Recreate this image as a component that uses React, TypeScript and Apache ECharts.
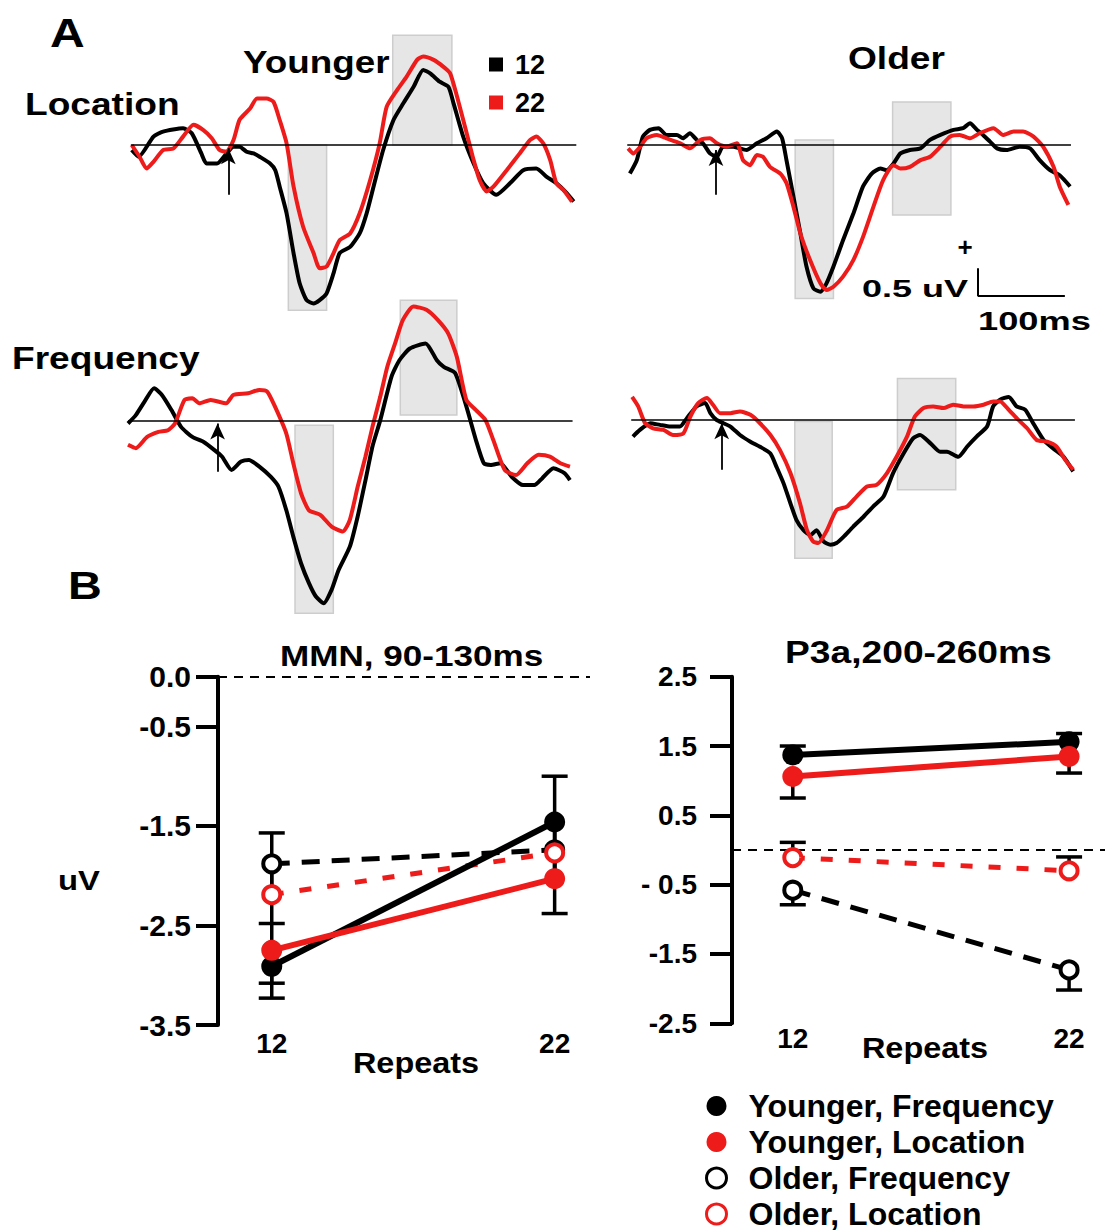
import React, { useEffect, useRef } from 'react';
import * as echarts from 'echarts';

const RED = '#ee1b1b';
const BLACK = '#000000';
const FONT = '"Liberation Sans", Arial, Helvetica, sans-serif';

// ---------- Panel A: ERP difference waves, [time ms (0 = arrow), amplitude uV] ----------
const youngLoc12 = [[-111,-0.09],[-103,-0.21],[-86,0.15],[-75,0.24],[-52,0.3],[-42,0.21],[-31,-0.15],[-25,-0.33],[-13,-0.33],[-2,-0.15],[6,-0.03],[13,-0.03],[21,-0.12],[29,-0.15],[36,-0.21],[48,-0.33],[54,-0.45],[59,-0.74],[67,-1.22],[75,-1.93],[82,-2.47],[90,-2.77],[98,-2.83],[105,-2.77],[113,-2.65],[121,-2.29],[128,-1.93],[140,-1.82],[151,-1.58],[159,-1.22],[167,-0.74],[178,-0.09],[190,0.45],[201,0.74],[213,1.04],[224,1.34],[232,1.28],[243,1.13],[253,1.04],[259,0.74],[270,0.15],[282,-0.33],[293,-0.68],[308,-0.89],[324,-0.68],[339,-0.45],[354,-0.42],[366,-0.57],[377,-0.68],[389,-0.86],[397,-1.01]];
const youngLoc22 = [[-111,0],[-102,-0.21],[-94,-0.42],[-86,-0.3],[-75,-0.09],[-63,-0.06],[-52,0.15],[-40,0.36],[-29,0.27],[-19,0.12],[-10,-0.09],[-2,-0.12],[6,0.09],[13,0.45],[25,0.65],[33,0.83],[44,0.83],[52,0.77],[59,0.45],[67,0.03],[75,-0.74],[86,-1.46],[98,-1.93],[105,-2.2],[113,-2.17],[121,-1.93],[128,-1.7],[140,-1.58],[151,-1.22],[163,-0.63],[174,0.03],[182,0.68],[194,0.98],[205,1.22],[217,1.52],[224,1.58],[236,1.52],[247,1.4],[255,1.28],[263,0.86],[274,0.21],[282,-0.27],[289,-0.63],[297,-0.83],[305,-0.74],[320,-0.45],[335,-0.15],[347,0.09],[354,0.15],[362,0.03],[370,-0.27],[377,-0.68],[385,-0.8],[395,-1.01]];
const oldLoc12 = [[-99,-0.51],[-91,-0.27],[-84,0.15],[-76,0.27],[-66,0.3],[-57,0.18],[-45,0.18],[-38,0.12],[-30,0.21],[-22,0.09],[-15,0.03],[-7,-0.15],[1,-0.21],[8,-0.03],[20,-0.03],[35,-0.09],[47,0.03],[58,0.12],[70,0.24],[76,0.12],[81,-0.27],[89,-0.92],[97,-1.58],[104,-2.17],[112,-2.56],[120,-2.62],[127,-2.47],[135,-2.17],[146,-1.7],[158,-1.22],[169,-0.74],[179,-0.51],[189,-0.42],[196,-0.45],[204,-0.33],[212,-0.15],[223,-0.09],[235,-0.06],[246,0.09],[258,0.18],[273,0.27],[284,0.3],[292,0.39],[300,0.27],[307,0.18],[315,0.06],[323,-0.06],[334,-0.09],[349,-0.03],[361,-0.06],[372,-0.27],[384,-0.45],[395,-0.54],[407,-0.74]];
const oldLoc22 = [[-101,-0.06],[-95,-0.15],[-87,-0.03],[-80,0.12],[-68,0.18],[-57,0.12],[-41,0.03],[-30,-0.06],[-18,0.09],[-7,0.12],[1,0.03],[12,-0.03],[24,0.03],[31,-0.27],[39,-0.36],[47,-0.18],[54,-0.21],[62,-0.39],[74,-0.51],[81,-0.68],[89,-1.1],[97,-1.58],[108,-2.05],[120,-2.47],[127,-2.59],[135,-2.53],[146,-2.35],[158,-2.05],[169,-1.64],[181,-1.1],[192,-0.63],[204,-0.36],[212,-0.42],[223,-0.39],[235,-0.27],[246,-0.21],[258,-0.03],[269,0.15],[280,0.18],[292,0.12],[303,0.21],[319,0.3],[330,0.18],[342,0.24],[353,0.24],[365,0.15],[376,-0.03],[388,-0.39],[395,-0.74],[405,-1.07]];
const youngFreq12 = [[-103,-0.05],[-94,0.1],[-84,0.34],[-73,0.58],[-64,0.46],[-53,0.19],[-42,-0.11],[-29,-0.29],[-16,-0.38],[-4,-0.52],[5,-0.64],[16,-0.88],[27,-0.73],[36,-0.7],[48,-0.82],[61,-1.0],[70,-1.18],[79,-1.6],[87,-2.07],[96,-2.55],[105,-2.9],[113,-3.14],[122,-3.26],[131,-3.02],[139,-2.67],[152,-2.25],[161,-1.71],[170,-1.06],[178,-0.46],[187,0.01],[200,0.79],[209,1.08],[221,1.29],[239,1.38],[252,1.08],[260,0.96],[273,0.85],[286,0.25],[297,-0.35],[306,-0.76],[314,-0.79],[325,-0.76],[338,-1.0],[351,-1.15],[364,-1.15],[373,-1.03],[386,-0.85],[399,-0.94],[405,-1.06]];
const youngFreq22 = [[-103,-0.43],[-94,-0.49],[-81,-0.29],[-68,-0.2],[-57,-0.17],[-49,-0.05],[-38,0.37],[-29,0.4],[-21,0.31],[-8,0.37],[10,0.31],[18,0.46],[35,0.49],[48,0.55],[57,0.52],[66,0.25],[79,-0.23],[87,-0.76],[96,-1.3],[105,-1.6],[118,-1.68],[131,-1.89],[144,-1.98],[152,-1.77],[161,-1.18],[170,-0.64],[178,-0.11],[187,0.43],[195,0.96],[204,1.38],[213,1.8],[225,2.04],[240,1.98],[253,1.8],[265,1.56],[275,1.14],[286,0.37],[297,0.19],[308,0.01],[317,-0.35],[330,-0.88],[343,-0.97],[356,-0.76],[369,-0.61],[382,-0.64],[394,-0.76],[405,-0.82]];
const oldFreq12 = [[-102,-0.31],[-94,-0.19],[-82,-0.07],[-71,-0.1],[-59,-0.13],[-48,-0.13],[-40,0.02],[-29,0.23],[-19,0.29],[-13,0.11],[-6,-0.01],[2,-0.07],[10,-0.13],[21,-0.28],[33,-0.4],[44,-0.49],[56,-0.61],[63,-0.85],[71,-1.14],[79,-1.5],[86,-1.8],[94,-1.98],[102,-2.07],[109,-1.98],[117,-2.18],[125,-2.24],[132,-2.21],[140,-2.1],[151,-1.92],[163,-1.74],[174,-1.56],[186,-1.38],[197,-0.96],[209,-0.61],[220,-0.34],[228,-0.28],[240,-0.43],[251,-0.58],[259,-0.58],[272,-0.67],[282,-0.49],[293,-0.31],[305,-0.13],[312,0.23],[320,0.35],[330,0.4],[339,0.23],[349,0.17],[358,-0.07],[370,-0.37],[381,-0.52],[393,-0.67],[404,-0.93]];
const oldFreq22 = [[-103,0.4],[-96,0.23],[-88,-0.07],[-79,-0.16],[-67,-0.19],[-56,-0.28],[-44,-0.25],[-36,0.05],[-27,0.29],[-17,0.38],[-10,0.26],[-2,0.11],[10,0.11],[21,0.14],[33,0.08],[44,-0.07],[56,-0.28],[67,-0.55],[79,-0.96],[90,-1.5],[98,-1.98],[105,-2.18],[111,-2.21],[121,-1.98],[132,-1.62],[144,-1.56],[155,-1.38],[167,-1.2],[178,-1.17],[190,-0.96],[201,-0.67],[213,-0.31],[222,0.05],[232,0.2],[243,0.23],[255,0.2],[266,0.26],[278,0.23],[289,0.23],[301,0.26],[312,0.32],[320,0.32],[330,0.17],[339,0.02],[351,-0.16],[362,-0.37],[374,-0.4],[385,-0.49],[395,-0.73],[404,-0.9]];

// analysis windows [tStart, tEnd, vTop, vBottom]
const youngLocBoxes = [[69,113,0,-2.95],[189,257,1.96,0]];
const oldLocBoxes = [[91,135,0.09,-2.74],[203,270,0.77,-1.25]];
const youngFreqBoxes = [[89,133,-0.08,-3.44],[210,275,2.15,0.1]];
const oldFreqBoxes = [[84,127,-0.04,-2.48],[202,269,0.73,-1.26]];
// onset arrows [tail uV, tip uV] at t = 0
const youngLocArrow = [-0.89,-0.06];
const oldLocArrow = [-0.89,-0.09];
const youngFreqArrow = [-0.91,-0.05];
const oldFreqArrow = [-0.9,-0.07];
// scale bar (Older, Location panel)
const scaleBarOrigin = [301,-2.7];
const scaleBarMs = 100;
const scaleBarUv = 0.5;

// ---------- Panel B ----------
const repeats = [12, 22];
const mmnTicks = [0, -0.5, -1.5, -2.5, -3.5];
const p3aTicks = [2.5, 1.5, 0.5, -0.5, -1.5, -2.5];
const p3aTickLabels = ['2.5', '1.5', '0.5', '- 0.5', '-1.5', '-2.5'];

// means, error-bar ends (lo / hi) and whether each end shows a cap
const mmnYoungFreq = [-2.91, -1.46];
const mmnYoungFreqLo = [-3.23, -1.95];
const mmnYoungFreqHi = [-2.91, -1.0];
const mmnYoungFreqCaps = [[1, 0], [0, 1]];
const mmnYoungLoc = [-2.75, -2.03];
const mmnYoungLocLo = [-3.08, -2.38];
const mmnYoungLocHi = [-2.48, -1.68];
const mmnYoungLocCaps = [[1, 1], [1, 0]];
const mmnOldFreq = [-1.88, -1.74];
const mmnOldFreqLo = [-2.19, -2.0];
const mmnOldFreqHi = [-1.57, -1.46];
const mmnOldFreqCaps = [[0, 1], [0, 0]];
const mmnOldLoc = [-2.19, -1.77];
const mmnOldLocLo = [-2.49, -2.02];
const mmnOldLocHi = [-1.89, -1.52];
const mmnOldLocCaps = [[0, 0], [0, 0]];

const p3aYoungFreq = [1.37, 1.56];
const p3aYoungFreqLo = [1.37, 1.56];
const p3aYoungFreqHi = [1.5, 1.68];
const p3aYoungFreqCaps = [[0, 1], [0, 1]];
const p3aYoungLoc = [1.06, 1.35];
const p3aYoungLocLo = [0.75, 1.11];
const p3aYoungLocHi = [1.06, 1.35];
const p3aYoungLocCaps = [[1, 0], [1, 0]];
const p3aOldFreq = [-0.58, -1.73];
const p3aOldFreqLo = [-0.79, -2.02];
const p3aOldFreqHi = [-0.58, -1.73];
const p3aOldFreqCaps = [[1, 0], [1, 0]];
const p3aOldLoc = [-0.11, -0.3];
const p3aOldLocLo = [-0.11, -0.3];
const p3aOldLocHi = [0.11, -0.1];
const p3aOldLocCaps = [[0, 1], [0, 1]];

const PX_PER_MS = 0.87;
const PX_PER_UV = 56;

const erpPanels = [
  { origin: [228.3, 145], t: [-112, 400], v: [-3.0, 2.0], d12: youngLoc12, d22: youngLoc22, boxes: youngLocBoxes, arrow: youngLocArrow, scale: false },
  { origin: [716, 145], t: [-102, 408], v: [-2.8, 0.8], d12: oldLoc12, d22: oldLoc22, boxes: oldLocBoxes, arrow: oldLocArrow, scale: true },
  { origin: [217.6, 420.7], t: [-103, 408], v: [-3.5, 2.2], d12: youngFreq12, d22: youngFreq22, boxes: youngFreqBoxes, arrow: youngFreqArrow, scale: false },
  { origin: [721.7, 419.3], t: [-104, 406], v: [-2.6, 0.8], d12: oldFreq12, d22: oldFreq22, boxes: oldFreqBoxes, arrow: oldFreqArrow, scale: false },
];

function txt(text: string, x: number, y: number, size: number, sx: number, align = 'left') {
  return {
    type: 'text', x, y, scaleX: sx, z: 20, silent: true,
    style: {
      text, fontSize: size, fontWeight: 'bold', fontFamily: FONT, fill: '#000',
      align, verticalAlign: 'middle', textAlign: align, textVerticalAlign: 'middle',
    },
  };
}

function buildOption() {
  const grid: any[] = [];
  const xAxis: any[] = [];
  const yAxis: any[] = [];
  const series: any[] = [];

  erpPanels.forEach((p, i) => {
    const [ox, oy] = p.origin;
    grid.push({
      left: ox + p.t[0] * PX_PER_MS, top: oy - p.v[1] * PX_PER_UV,
      width: (p.t[1] - p.t[0]) * PX_PER_MS, height: (p.v[1] - p.v[0]) * PX_PER_UV,
      containLabel: false, outerBoundsMode: 'none',
    });
    xAxis.push({ type: 'value', gridIndex: i, min: p.t[0], max: p.t[1], show: false });
    yAxis.push({ type: 'value', gridIndex: i, min: p.v[0], max: p.v[1], show: false });
    const lines: any[] = [
      { yAxis: 0, symbol: 'none', lineStyle: { color: BLACK, width: 1.6, type: 'solid' } },
      [
        { coord: [0, p.arrow[0]], symbol: 'none', lineStyle: { color: BLACK, width: 1.8, type: 'solid' } },
        { coord: [0, p.arrow[1]], symbol: 'arrow', symbolSize: [11, 16] },
      ],
    ];
    if (p.scale) {
      const [sx0, sy0] = scaleBarOrigin;
      lines.push([
        { coord: [sx0, sy0 + scaleBarUv], symbol: 'none', lineStyle: { color: BLACK, width: 2, type: 'solid' } },
        { coord: [sx0, sy0], symbol: 'none' },
      ]);
      lines.push([
        { coord: [sx0, sy0], symbol: 'none', lineStyle: { color: BLACK, width: 2, type: 'solid' } },
        { coord: [sx0 + scaleBarMs, sy0], symbol: 'none' },
      ]);
    }
    series.push({
      type: 'line', name: '12', xAxisIndex: i, yAxisIndex: i, data: p.d12,
      symbol: 'none', smooth: 0.2, clip: false, z: 3, silent: true,
      lineStyle: { color: BLACK, width: 4 }, itemStyle: { color: BLACK },
      markArea: {
        silent: true, z: 1,
        itemStyle: { color: '#e6e6e6', borderColor: '#cdcdcd', borderWidth: 1.5 },
        label: { show: false },
        data: p.boxes.map((b) => [{ coord: [b[0], b[2]] }, { coord: [b[1], b[3]] }]),
      },
      markLine: {
        silent: true, z: 5, symbol: 'none', label: { show: false },
        lineStyle: { color: BLACK, width: 1.6, type: 'solid' },
        emphasis: { disabled: true },
        data: lines,
      },
    });
    series.push({
      type: 'line', name: '22', xAxisIndex: i, yAxisIndex: i, data: p.d22,
      symbol: 'none', smooth: 0.2, clip: false, z: 4, silent: true,
      lineStyle: { color: RED, width: 4 }, itemStyle: { color: RED },
    });
  });

  // Panel B grids
  const bGrids = [
    { left: 218, top: 676.7, width: 372, height: 348.3, xmin: 10.1, xmax: 23.25, ymin: -3.5, ymax: 0, ticks: mmnTicks, labels: mmnTicks.map((v) => v.toFixed(1)), labelSize: 30, labelMargin: 27, xMargin: 4 },
    { left: 732, top: 676.7, width: 373, height: 346.6, xmin: 9.8, xmax: 23.3, ymin: -2.5, ymax: 2.5, ticks: p3aTicks, labels: p3aTickLabels, labelSize: 28, labelMargin: 35, xMargin: 1 },
  ];
  bGrids.forEach((g, k) => {
    const gi = 4 + k;
    grid.push({ left: g.left, top: g.top, width: g.width, height: g.height, containLabel: false, outerBoundsMode: 'none' });
    xAxis.push({
      type: 'value', gridIndex: gi, min: g.xmin, max: g.xmax,
      axisLine: { show: false }, axisTick: { show: false }, splitLine: { show: false },
      axisLabel: { customValues: repeats, fontSize: 28, fontWeight: 'bold', color: '#000', fontFamily: FONT, margin: g.xMargin },
    });
    yAxis.push({
      type: 'value', gridIndex: gi, min: g.ymin, max: g.ymax, splitLine: { show: false },
      axisLine: { show: true, onZero: false, lineStyle: { color: '#000', width: 4 } },
      axisTick: { show: true, customValues: g.ticks, length: 22, lineStyle: { color: '#000', width: 4 } },
      axisLabel: {
        customValues: g.ticks, fontSize: g.labelSize, fontWeight: 'bold', color: '#000', fontFamily: FONT, margin: g.labelMargin,
        formatter: (v: number) => { const idx = g.ticks.findIndex((t) => Math.abs(t - v) < 1e-6); return idx >= 0 ? g.labels[idx] : ''; },
      },
    });
  });

  const errSeries = (gi: number, lo: number[], hi: number[], caps: number[][], first: boolean) => ({
    type: 'custom', xAxisIndex: gi, yAxisIndex: gi, z: 2, silent: true, clip: false,
    data: repeats.map((r, i) => [r, lo[i], hi[i], caps[i][0], caps[i][1]]),
    encode: { x: 0, y: [1, 2] },
    renderItem: (params: any, api: any) => {
      const x = api.value(0);
      const pl = api.coord([x, api.value(1)]);
      const ph = api.coord([x, api.value(2)]);
      const w = 13;
      const style = { stroke: '#000', lineWidth: 3.5, fill: null };
      const children: any[] = [{ type: 'line', shape: { x1: pl[0], y1: pl[1], x2: ph[0], y2: ph[1] }, style }];
      if (api.value(3)) children.push({ type: 'line', shape: { x1: pl[0] - w, y1: pl[1], x2: pl[0] + w, y2: pl[1] }, style });
      if (api.value(4)) children.push({ type: 'line', shape: { x1: ph[0] - w, y1: ph[1], x2: ph[0] + w, y2: ph[1] }, style });
      return { type: 'group', children };
    },
    markLine: first ? {
      silent: true, symbol: 'none', label: { show: false }, z: 1,
      lineStyle: { color: '#000', width: 2, type: [9, 7] },
      data: [{ yAxis: 0 }],
    } : undefined,
  });

  const lineSeries = (gi: number, name: string, values: number[], color: string, filled: boolean, dash: any) => ({
    type: 'line', name, xAxisIndex: gi, yAxisIndex: gi, silent: true, clip: false,
    data: repeats.map((r, i) => [r, values[i]]),
    symbol: 'circle', symbolSize: filled ? 21 : 17, showSymbol: true, z: 4,
    lineStyle: { color, width: filled ? 6 : 5, type: dash },
    itemStyle: filled ? { color } : { color: '#ffffff', borderColor: color, borderWidth: 4 },
  });

  const sets = [
    { gi: 4,
      yf: [mmnYoungFreq, mmnYoungFreqLo, mmnYoungFreqHi, mmnYoungFreqCaps],
      yl: [mmnYoungLoc, mmnYoungLocLo, mmnYoungLocHi, mmnYoungLocCaps],
      of: [mmnOldFreq, mmnOldFreqLo, mmnOldFreqHi, mmnOldFreqCaps],
      ol: [mmnOldLoc, mmnOldLocLo, mmnOldLocHi, mmnOldLocCaps] },
    { gi: 5,
      yf: [p3aYoungFreq, p3aYoungFreqLo, p3aYoungFreqHi, p3aYoungFreqCaps],
      yl: [p3aYoungLoc, p3aYoungLocLo, p3aYoungLocHi, p3aYoungLocCaps],
      of: [p3aOldFreq, p3aOldFreqLo, p3aOldFreqHi, p3aOldFreqCaps],
      ol: [p3aOldLoc, p3aOldLocLo, p3aOldLocHi, p3aOldLocCaps] },
  ];
  sets.forEach((s: any) => {
    series.push(errSeries(s.gi, s.of[1], s.of[2], s.of[3], true));
    series.push(errSeries(s.gi, s.ol[1], s.ol[2], s.ol[3], false));
    series.push(errSeries(s.gi, s.yf[1], s.yf[2], s.yf[3], false));
    series.push(errSeries(s.gi, s.yl[1], s.yl[2], s.yl[3], false));
    series.push(lineSeries(s.gi, 'Older, Frequency', s.of[0], BLACK, false, [18, 12]));
    series.push(lineSeries(s.gi, 'Older, Location', s.ol[0], RED, false, [12, 16]));
    series.push(lineSeries(s.gi, 'Younger, Frequency', s.yf[0], BLACK, true, 'solid'));
    series.push(lineSeries(s.gi, 'Younger, Location', s.yl[0], RED, true, 'solid'));
  });

  const graphic = [
    txt('A', 50, 33, 40, 1.2),
    txt('Younger', 243, 62, 32, 1.15),
    txt('Location', 25, 104, 32, 1.16),
    txt('Older', 848, 58, 32, 1.16),
    txt('Frequency', 12, 358, 32, 1.16),
    txt('+', 965, 247, 26, 1, 'center'),
    txt('0.5 uV', 968, 288, 24, 1.5, 'right'),
    txt('100ms', 978, 322, 25, 1.45),
    txt('B', 68, 585, 39, 1.2),
    txt('MMN, 90-130ms', 280, 655, 30, 1.17),
    txt('P3a,200-260ms', 785, 652, 31, 1.2),
    txt('uV', 58, 880, 28, 1.17),
    txt('Repeats', 416, 1063, 30, 1.08, 'center'),
    txt('Repeats', 925, 1048, 30, 1.08, 'center'),
  ];

  return {
    animation: false,
    backgroundColor: '#ffffff',
    textStyle: { fontFamily: FONT },
    grid, xAxis, yAxis, series, graphic,
    legend: [
      {
        data: [{ name: '12', icon: 'square' }, { name: '22', icon: 'square' }],
        orient: 'vertical', left: 489, top: 51, padding: 0, itemWidth: 21, itemHeight: 14, itemGap: 11,
        selectedMode: false,
        textStyle: { fontSize: 27, fontWeight: 'bold', color: '#000', fontFamily: FONT, lineHeight: 26 },
      },
      {
        data: [
          { name: 'Younger, Frequency', icon: 'circle', itemStyle: { color: BLACK, borderWidth: 0 } },
          { name: 'Younger, Location', icon: 'circle', itemStyle: { color: RED, borderWidth: 0 } },
          { name: 'Older, Frequency', icon: 'circle', itemStyle: { color: '#ffffff', borderColor: BLACK, borderWidth: 3 } },
          { name: 'Older, Location', icon: 'circle', itemStyle: { color: '#ffffff', borderColor: RED, borderWidth: 3 } },
        ],
        orient: 'vertical', left: 705, top: 1090, height: 160, padding: 0,
        itemWidth: 54, itemHeight: 20, itemGap: 4,
        selectedMode: false,
        textStyle: { fontSize: 32, fontWeight: 'bold', color: '#000', fontFamily: FONT, lineHeight: 26 },
      },
    ],
  };
}

export default function App() {
  const ref = useRef<HTMLDivElement>(null);
  useEffect(() => {
    if (!ref.current) return;
    const chart = echarts.init(ref.current, null, { renderer: 'svg' });
    chart.setOption(buildOption() as any);
    return () => chart.dispose();
  }, []);
  return (
    <div
      ref={ref}
      style={{ position: 'absolute', left: 0, top: 0, width: 1108, height: 1232, background: '#fff' }}
    />
  );
}
